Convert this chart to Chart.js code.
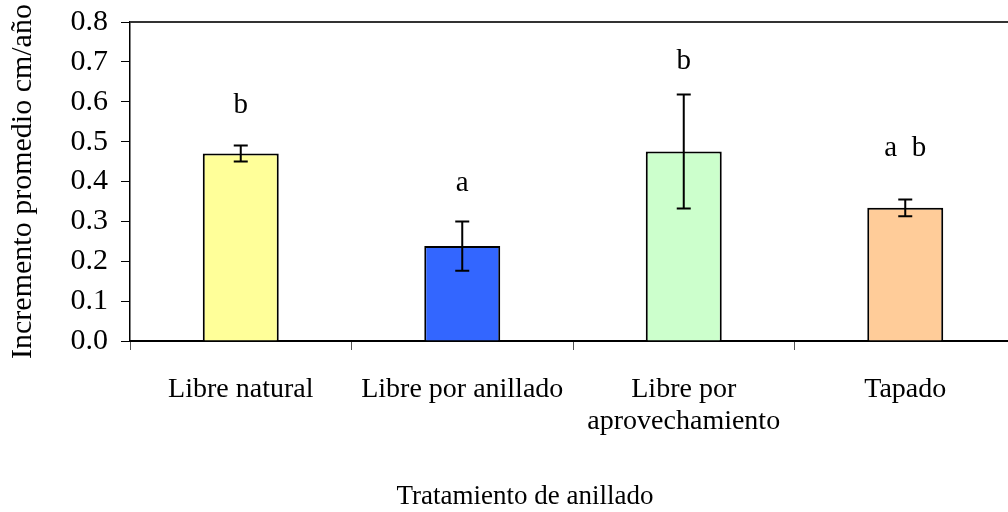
<!DOCTYPE html>
<html>
<head>
<meta charset="utf-8">
<style>
  html, body { margin: 0; padding: 0; background: #fff; overflow: hidden; }
  #wrap { width: 1008px; height: 512px; overflow: hidden; }
</style>
<script src="https://cdn.jsdelivr.net/npm/chart.js@4.4.3/dist/chart.umd.min.js"></script>
</head>
<body>
<div id="wrap"><canvas id="chart" width="1020" height="512"></canvas></div>
<script>
// data
const categories = ['Libre natural', 'Libre por anillado', ['Libre por', 'aprovechamiento'], 'Tapado'];
const means = [0.470, 0.238, 0.475, 0.334];
const errors = [0.020, 0.062, 0.143, 0.021];
const letters = ['b', 'a', 'b', 'a  b'];
const letterAt = [0.592, 0.395, 0.702, 0.483];
const barColors = ['#FFFF99', '#3366FF', '#CCFFCC', '#FFCC99'];
const yTicks = [0, 0.1, 0.2, 0.3, 0.4, 0.5, 0.6, 0.7, 0.8];

const yTitle = 'Incremento promedio cm/año';
const xTitle = 'Tratamiento de anillado';
const serif = '"Liberation Serif", "Times New Roman", serif';

// error bars, significance letters, top frame line and x title
const extras = {
  id: 'extras',
  afterDatasetsDraw(chart) {
    const ctx = chart.ctx;
    const xs = chart.scales.x, ys = chart.scales.y;
    const area = chart.chartArea;
    ctx.save();
    // top frame
    ctx.strokeStyle = '#333';
    ctx.lineWidth = 2;
    ctx.beginPath();
    ctx.moveTo(area.left, area.top);
    ctx.lineTo(area.right, area.top);
    ctx.stroke();

    // error bars
    ctx.strokeStyle = '#000';
    ctx.lineWidth = 2;
    const cap = 7;
    means.forEach((m, i) => {
      const x = xs.getPixelForValue(i);
      const yHi = ys.getPixelForValue(m + errors[i]);
      const yLo = ys.getPixelForValue(m - errors[i]);
      ctx.beginPath();
      ctx.moveTo(x, yHi); ctx.lineTo(x, yLo);
      ctx.moveTo(x - cap, yHi); ctx.lineTo(x + cap, yHi);
      ctx.moveTo(x - cap, yLo); ctx.lineTo(x + cap, yLo);
      ctx.stroke();
    });

    // letters
    ctx.fillStyle = '#000';
    ctx.font = '29px ' + serif;
    ctx.textAlign = 'center';
    ctx.textBaseline = 'middle';
    letters.forEach((t, i) => {
      ctx.fillText(t, xs.getPixelForValue(i), ys.getPixelForValue(letterAt[i]));
    });

    // x axis title
    ctx.font = '27px ' + serif;
    ctx.fillText(xTitle, (area.left + area.right) / 2 - 48, 497);
    ctx.restore();
  }
};

new Chart(document.getElementById('chart'), {
  type: 'bar',
  data: {
    labels: categories,
    datasets: [{
      data: means,
      backgroundColor: barColors,
      borderColor: '#000',
      borderWidth: 2,
      borderSkipped: 'bottom',
      categoryPercentage: 1,
      barPercentage: 0.343
    }]
  },
  options: {
    responsive: false,
    animation: false,
    devicePixelRatio: 1,
    layout: { padding: { top: 22, right: 4, left: 0, bottom: 0 } },
    plugins: { legend: { display: false }, tooltip: { enabled: false } },
    scales: {
      x: {
        offset: true,
        grid: { offset: true, drawOnChartArea: false, drawTicks: true, tickLength: 9, color: '#555', lineWidth: 1 },
        border: { display: true, color: '#000', width: 2 },
        ticks: {
          color: '#000',
          font: { family: serif, size: 28, lineHeight: 1.14 },
          padding: 24,
          maxRotation: 0,
          autoSkip: false
        },
        afterFit(scale) { scale.height = 171; scale.paddingLeft = 0; scale.paddingRight = 0; }
      },
      y: {
        min: 0,
        max: 0.8,
        afterBuildTicks(scale) { scale.ticks = yTicks.map(v => ({ value: v })); },
        grid: { drawOnChartArea: false, drawTicks: true, tickLength: 9, color: '#000', lineWidth: 1 },
        border: { display: true, color: '#000', width: 1.5 },
        ticks: {
          color: '#000',
          font: { family: serif, size: 30 },
          padding: 13,
          callback: v => Number(v).toFixed(1)
        },
        title: {
          display: true,
          text: yTitle,
          color: '#000',
          font: { family: serif, size: 30, lineHeight: 1.2 },
          padding: { top: 5, bottom: 0 }
        },
        afterFit(scale) { scale.width = 130; scale.paddingTop = 0; scale.paddingBottom = 0; }
      }
    }
  },
  plugins: [extras]
});
</script>
</body>
</html>
